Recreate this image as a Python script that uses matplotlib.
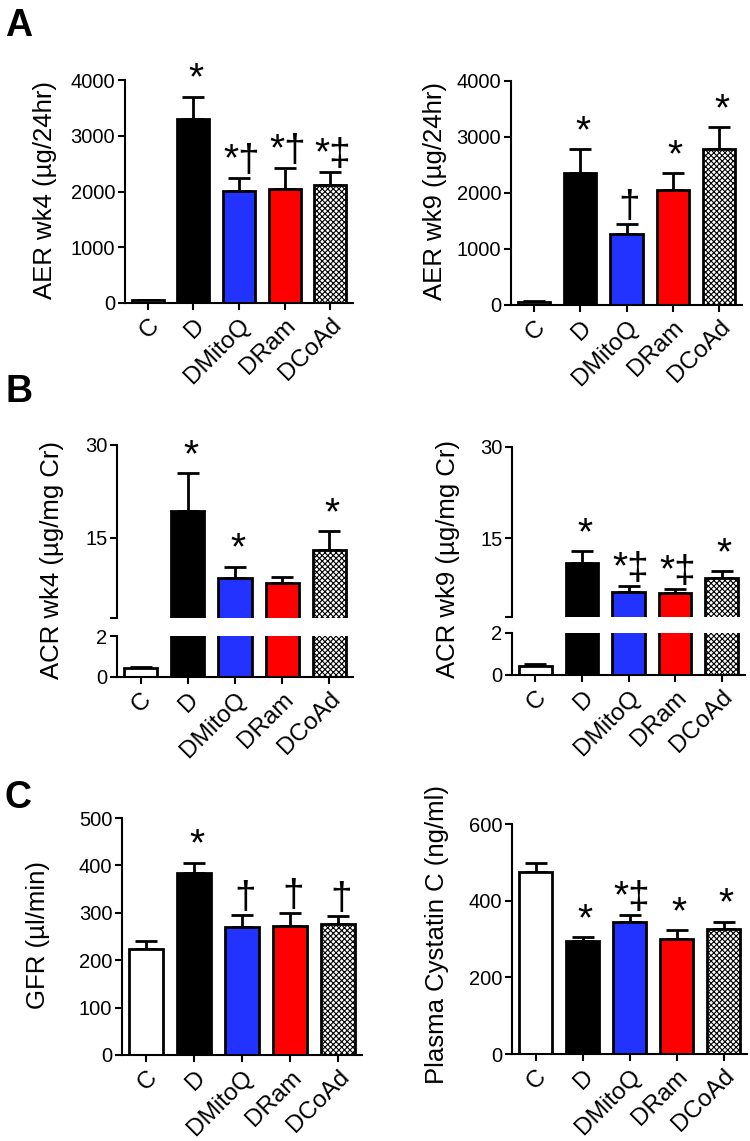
import numpy as np
import matplotlib
matplotlib.use("Agg")
import matplotlib.pyplot as plt

plt.rcParams['font.family'] = ['Liberation Sans', 'DejaVu Sans']
plt.rcParams['hatch.linewidth'] = 0.8

groups = ['C', 'D', 'DMitoQ', 'DRam', 'DCoAd']

aer_wk4 = [50, 3300, 2010, 2050, 2120]
aer_wk4_sem = [10, 400, 240, 370, 230]
aer_wk4_marks = ['', '*', '*†', '*†', '*‡']

aer_wk9 = [60, 2350, 1260, 2060, 2790]
aer_wk9_sem = [10, 430, 190, 290, 390]
aer_wk9_marks = ['', '*', '†', '*', '*']

acr_wk4 = [0.45, 19.3, 8.5, 7.6, 13.0]
acr_wk4_sem = [0.05, 6.1, 1.8, 1.1, 3.1]
acr_wk4_marks = ['', '*', '*', '', '*']

acr_wk9 = [0.45, 10.9, 6.1, 5.9, 8.4]
acr_wk9_sem = [0.07, 1.9, 1.0, 0.7, 1.2]
acr_wk9_marks = ['', '*', '*‡', '*‡', '*']

gfr = [224, 385, 269, 273, 276]
gfr_sem = [16, 21, 27, 27, 17]
gfr_marks = ['', '*', '†', '†', '†']

cysc = [475, 296, 345, 301, 327]
cysc_sem = [23, 8, 18, 23, 18]
cysc_marks = ['', '*', '*‡', '*', '*']

face = ['white', 'black', '#2233ff', '#ff0000', 'white']
hatch = [None, None, None, None, 'xxxxxx']

W, H = 750, 1141
fig = plt.figure(figsize=(W / 100, H / 100), dpi=100)


def px_axes(l, t, r, b):
    return fig.add_axes([l / W, 1 - b / H, (r - l) / W, (b - t) / H])


def style(ax, bottom=True):
    for s in ['top', 'right']:
        ax.spines[s].set_visible(False)
    ax.spines['left'].set_linewidth(1.5)
    ax.spines['bottom'].set_linewidth(1.5)
    ax.tick_params(axis='y', direction='out', length=5, width=1.5, labelsize=14.5, pad=2)
    if bottom:
        ax.tick_params(axis='x', direction='out', length=5, width=1.5, labelsize=17.5, pad=3)
        ax.set_xticks(range(len(groups)))
        ax.set_xticklabels(groups, rotation=45, ha='right', rotation_mode='anchor')
    else:
        ax.spines['bottom'].set_visible(False)
        ax.set_xticks([])
    ax.set_xlim(-0.5, 4.5)


def bars(ax, vals, sem):
    x = np.arange(len(vals))
    for i in range(len(vals)):
        ax.bar(x[i], vals[i], width=0.7, color=face[i], edgecolor='black',
               linewidth=2, hatch=hatch[i], zorder=2)
    ax.errorbar(x, vals, yerr=[np.zeros(len(vals)), sem], fmt='none',
                ecolor='black', elinewidth=2, capsize=8, capthick=2, zorder=1)


def marks(ax, vals, sem, labels):
    for i, m in enumerate(labels):
        if m:
            ax.annotate(m, (i, vals[i] + sem[i]), xytext=(2, 5),
                        textcoords='offset points', ha='center', va='baseline',
                        fontsize=28, annotation_clip=False)


# panel A
ax = px_axes(125, 80, 353, 303)
style(ax)
bars(ax, aer_wk4, aer_wk4_sem)
marks(ax, aer_wk4, aer_wk4_sem, aer_wk4_marks)
ax.set_ylim(0, 4000)
ax.set_yticks([0, 1000, 2000, 3000, 4000])
fig.text(45 / W, 1 - 190 / H, 'AER wk4 (µg/24hr)', rotation=90, fontsize=18.5,
         ha='center', va='center')

ax = px_axes(511, 81, 742, 305)
style(ax)
bars(ax, aer_wk9, aer_wk9_sem)
marks(ax, aer_wk9, aer_wk9_sem, aer_wk9_marks)
ax.set_ylim(0, 4000)
ax.set_yticks([0, 1000, 2000, 3000, 4000])
fig.text(435 / W, 1 - 191 / H, 'AER wk9 (µg/24hr)', rotation=90, fontsize=18.5,
         ha='center', va='center')

# panel B (broken axes)
for (l, r, top, brk, lo_t, lo_b, vals, sem, lab, lx, ly, text) in [
        (117, 353, 445, 618, 636, 677, acr_wk4, acr_wk4_sem, acr_wk4_marks, 52, 560, 'ACR wk4 (µg/mg Cr)'),
        (512, 745, 447, 617, 633, 675, acr_wk9, acr_wk9_sem, acr_wk9_marks, 448, 559, 'ACR wk9 (µg/mg Cr)')]:
    up = px_axes(l, top, r, brk)
    style(up, bottom=False)
    bars(up, vals, sem)
    marks(up, vals, sem, lab)
    up.set_ylim(2, 30)
    up.set_yticks([2, 15, 30])
    up.set_yticklabels(['', '15', '30'])
    lo = px_axes(l, lo_t, r, lo_b)
    style(lo)
    bars(lo, vals, sem)
    lo.set_ylim(0, 2)
    lo.set_yticks([0, 2])
    fig.text(lx / W, 1 - ly / H, text, rotation=90, fontsize=18.5,
             ha='center', va='center')

# panel C
ax = px_axes(122, 818, 362, 1055)
style(ax)
bars(ax, gfr, gfr_sem)
marks(ax, gfr, gfr_sem, gfr_marks)
ax.set_ylim(0, 500)
ax.set_yticks([0, 100, 200, 300, 400, 500])
fig.text(38 / W, 1 - 935 / H, 'GFR (µl/min)', rotation=90, fontsize=18.5,
         ha='center', va='center')

ax = px_axes(512, 824, 747, 1054)
style(ax)
bars(ax, cysc, cysc_sem)
marks(ax, cysc, cysc_sem, cysc_marks)
ax.set_ylim(0, 600)
ax.set_yticks([0, 200, 400, 600])
fig.text(437 / W, 1 - 934 / H, 'Plasma Cystatin C (ng/ml)', rotation=90, fontsize=18.5,
         ha='center', va='center')

for letter, y in [('A', 8), ('B', 374), ('C', 780)]:
    fig.text(5 / W, 1 - y / H, letter, fontsize=27, fontweight='bold', ha='left', va='top')

fig.savefig('out.png', dpi=100)
